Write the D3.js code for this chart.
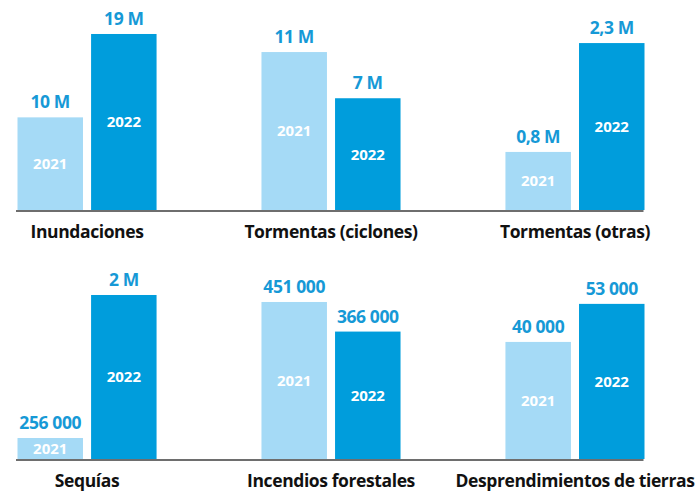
<!DOCTYPE html>
<html>
<head>
<meta charset="utf-8">
<script src="https://cdn.jsdelivr.net/npm/d3@7"></script>
<style>
  html, body { margin: 0; padding: 0; background: #fff; }
  text { font-family: "Open Sans", "Noto Sans", sans-serif; font-weight: 700; }
</style>
</head>
<body>
<div id="chart"></div>
<script>
let width = 696;
let height = 494;

// categorías (dos filas de tres)
let categories = ['Inundaciones', 'Tormentas (ciclones)', 'Tormentas (otras)',
  'Sequías', 'Incendios forestales', 'Desprendimientos de tierras'];
let years = ['2021', '2022'];

// valores estimados a partir de la altura de las barras
let values2021 = [10, 10.6, 0.8, 0.256, 451, 40];
let values2022 = [19, 7.5, 2.3, 2, 366, 53];

// etiquetas tal como aparecen
let labels2021 = ['10 M', '11 M', '0,8 M', '256 000', '451 000', '40 000'];
let labels2022 = ['19 M', '7 M', '2,3 M', '2 M', '366 000', '53 000'];

// máximo del dominio de cada panel (cada panel tiene su propia escala)
let domainMax = [19.43, 12.08, 2.48, 2.195, 517, 61.5];

let rowBase = [210, 459];
let barSpace = 180;

let colors = { '2021': '#a5daf6', '2022': '#009ddc' };

const svg = d3.select('#chart').append('svg')
  .attr('width', width)
  .attr('height', height);

// columnas
let x = d3.scaleBand()
  .domain([0, 1, 2])
  .range([17.5, 644.5])
  .paddingInner(0.43)
  .paddingOuter(0);

// barras dentro de cada panel
let xi = d3.scaleBand()
  .domain(years)
  .range([0, x.bandwidth()])
  .paddingInner(0.11)
  .paddingOuter(0);

let data = categories.map((c, i) => ({
  name: c,
  row: Math.floor(i / 3),
  col: i % 3,
  bars: [
    { year: '2021', value: values2021[i], label: labels2021[i] },
    { year: '2022', value: values2022[i], label: labels2022[i] }
  ],
  y: d3.scaleLinear()
    .domain([0, domainMax[i]])
    .range([rowBase[Math.floor(i / 3)], rowBase[Math.floor(i / 3)] - barSpace])
}));

// línea base de cada fila
svg.append('g')
  .selectAll('line')
  .data(rowBase)
  .join('line')
  .attr('x1', 16)
  .attr('x2', 643.5)
  .attr('y1', d => d + 1)
  .attr('y2', d => d + 1)
  .attr('stroke', '#6e6e6e')
  .attr('stroke-width', 2);

let panel = svg.append('g')
  .selectAll('g')
  .data(data)
  .join('g')
  .attr('transform', d => `translate(${x(d.col)}, 0)`);

let bar = panel.selectAll('g')
  .data(d => d.bars.map(b => Object.assign({ y: d.y }, b)))
  .join('g');

bar.append('rect')
  .attr('x', d => xi(d.year))
  .attr('width', xi.bandwidth())
  .attr('y', d => d.y(d.value))
  .attr('height', d => d.y(0) - d.y(d.value))
  .attr('fill', d => colors[d.year]);

// valor encima de la barra
bar.append('text')
  .attr('x', d => xi(d.year) + xi.bandwidth() / 2)
  .attr('y', d => d.y(d.value) - 9)
  .attr('text-anchor', 'middle')
  .attr('font-size', 17.5)
  .attr('font-weight', 800)
  .attr('letter-spacing', -0.4)
  .attr('fill', '#1699d6')
  .text(d => d.label);

// año dentro de la barra
bar.append('text')
  .attr('x', d => xi(d.year) + xi.bandwidth() / 2)
  .attr('y', d => (d.y(d.value) + d.y(0)) / 2)
  .attr('dy', '0.36em')
  .attr('text-anchor', 'middle')
  .attr('font-size', 15)
  .attr('fill', '#fff')
  .text(d => d.year);

// nombre de la categoría
panel.append('text')
  .attr('x', x.bandwidth() / 2)
  .attr('y', d => rowBase[d.row] + 28)
  .attr('text-anchor', 'middle')
  .attr('font-size', 17.5)
  .attr('letter-spacing', -0.4)
  .attr('fill', '#111')
  .text(d => d.name);
</script>
</body>
</html>
